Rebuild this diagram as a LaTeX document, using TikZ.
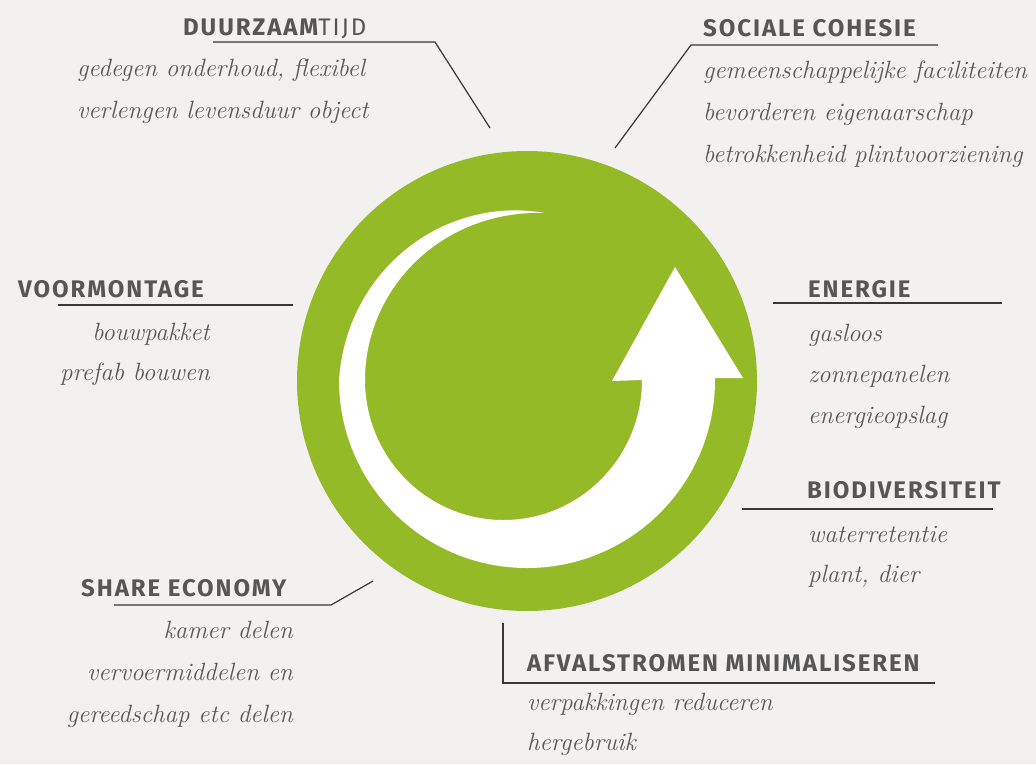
\documentclass[tikz,border=0pt]{standalone}
\usepackage{fontspec}
\newfontfamily\headfont[LetterSpace=8]{Fira Sans}
\usetikzlibrary{positioning}
\definecolor{CircGreen}{RGB}{148,186,39}
\definecolor{CircPaper}{RGB}{242,241,239}
\definecolor{CircText}{RGB}{86,86,86}
\definecolor{CircHand}{RGB}{88,88,88}
\definecolor{CircLine}{RGB}{55,55,55}
\tikzset{
  circ/head/.style={
    anchor=base west,
    inner sep=0pt,
    text=CircText,
    font=\headfont\fontsize{24}{28}\selectfont\bfseries
  },
  circ/hand/.style={
    anchor=base west,
    inner sep=0pt,
    text=CircHand,
    font=\itshape\fontsize{25}{29}\selectfont
  },
  circ/handr/.style={circ/hand, anchor=base east},
  circ/leader/.style={draw=CircLine, line width=1.2pt}
}

\begin{document}
\begin{tikzpicture}[x=1pt,y=-1pt]
  \useasboundingbox (0,0) rectangle (1036,764);
  \fill[CircPaper] (0,0) rectangle (1036,764);

  % green disc with the white turning arrow
  \fill[CircGreen] (527,381) circle[radius=230];
  \fill[white] (642,380) -- (612,381) -- (675,267) -- (743,378) -- (715,378)
    -- (715,380) arc[start angle=0, end angle=180, radius=188]
    -- plot[domain=180:276, samples=40]
       ({527+(188-20*(\x-180)/96)*cos(\x)}, {380+(188-20*(\x-180)/96)*sin(\x)})
    .. controls (440,210) and (365,290) .. (365,380)
    arc[start angle=180, end angle=0, x radius=138.5, y radius=140]
    -- cycle;

  % headings
  \node[circ/head] (duur) at (183,35) {DUURZAAM{\mdseries TIJD}};
  \node[circ/head] (soc) at (703,36) {SOCIALE COHESIE};
  \node[circ/head] (voor) at (18,297) {VOORMONTAGE};
  \node[circ/head] (ener) at (808,297) {ENERGIE};
  \node[circ/head] (bio) at (807,498) {BIODIVERSITEIT};
  \node[circ/head] (share) at (81,596) {SHARE ECONOMY};
  \node[circ/head] (afval) at (527,671) {AFVALSTROMEN MINIMALISEREN};

  % leader lines
  \coordinate (duur-a) at (213,42);  \coordinate (duur-b) at (435,42);  \coordinate (duur-c) at (490,128);
  \coordinate (soc-a) at (938,45);   \coordinate (soc-b) at (691,45);   \coordinate (soc-c) at (615,148);
  \coordinate (voor-a) at (58,305);  \coordinate (voor-b) at (293,305);
  \coordinate (ener-a) at (773,303); \coordinate (ener-b) at (1002,303);
  \coordinate (bio-a) at (742,509);  \coordinate (bio-b) at (993,509);
  \coordinate (share-a) at (114,605); \coordinate (share-b) at (331,605); \coordinate (share-c) at (373,581);
  \coordinate (afval-a) at (503,623); \coordinate (afval-b) at (503,683); \coordinate (afval-c) at (935,683);
  \draw[circ/leader] (duur-a) -- (duur-b) -- (duur-c);
  \draw[circ/leader] (soc-a) -- (soc-b) -- (soc-c);
  \draw[circ/leader] (voor-a) -- (voor-b);
  \draw[circ/leader] (ener-a) -- (ener-b);
  \draw[circ/leader] (bio-a) -- (bio-b);
  \draw[circ/leader] (share-a) -- (share-b) -- (share-c);
  \draw[circ/leader] (afval-a) -- (afval-b) -- (afval-c);

  % handwritten lines
  \foreach \txt [count=\i from 0] in {{gedegen onderhoud, flexibel},{verlengen levensduur object}}
    \node[circ/hand] (duur-t\i) at (77,76+42*\i) {\txt};
  \foreach \txt [count=\i from 0] in {gemeenschappelijke faciliteiten,bevorderen eigenaarschap,betrokkenheid plintvoorziening}
    \node[circ/hand] (soc-t\i) at (703,78+42*\i) {\txt};
  \foreach \txt [count=\i from 0] in {bouwpakket,prefab bouwen}
    \node[circ/handr] (voor-t\i) at (210,340+40*\i) {\txt};
  \foreach \txt [count=\i from 0] in {gasloos,zonnepanelen,energieopslag}
    \node[circ/hand] (ener-t\i) at (808,341+41*\i) {\txt};
  \foreach \txt [count=\i from 0] in {waterretentie,{plant, dier}}
    \node[circ/hand] (bio-t\i) at (808,542+40*\i) {\txt};
  \foreach \txt [count=\i from 0] in {kamer delen,vervoermiddelen en,gereedschap etc delen}
    \node[circ/handr] (share-t\i) at (293,638+42*\i) {\txt};
  \foreach \txt [count=\i from 0] in {verpakkingen reduceren,hergebruik}
    \node[circ/hand] (afval-t\i) at (527,710+40*\i) {\txt};
\end{tikzpicture}
\end{document}
